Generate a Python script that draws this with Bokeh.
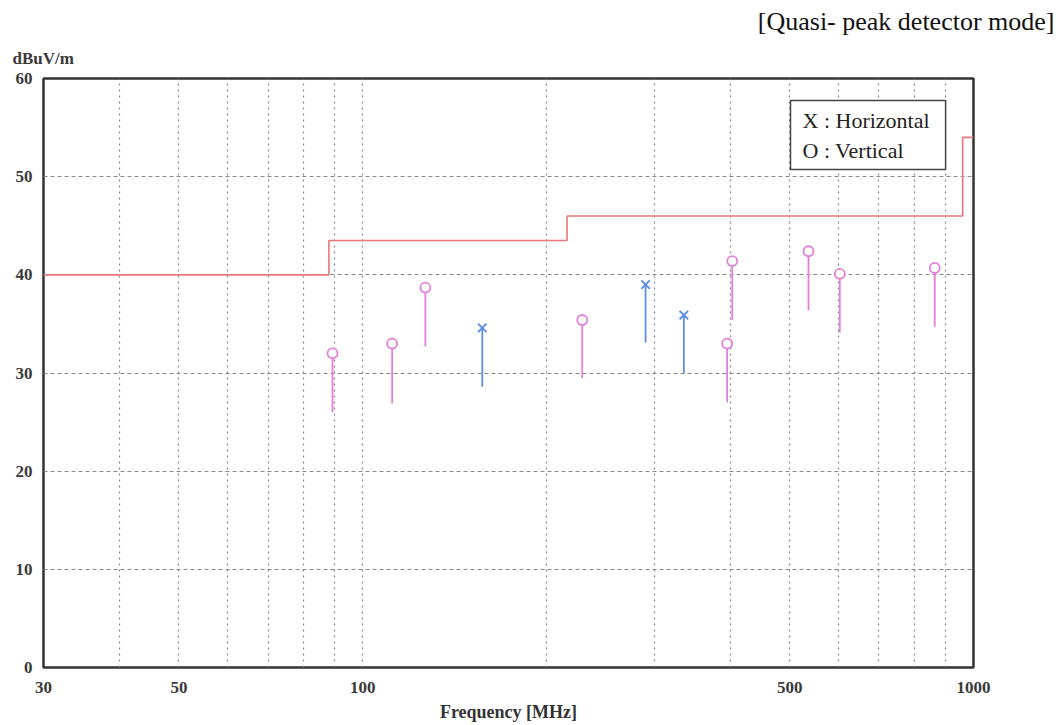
from bokeh.plotting import figure
from bokeh.models import FixedTicker, Label, CustomJSTickFormatter, Title
from bokeh.embed import file_html
from bokeh.resources import INLINE

# Limit line (step) in MHz / dBuV/m
limit_freq = [30, 88, 216, 960, 1000]
limit_level = [40, 43.5, 46, 54, 54]

# Vertical polarisation readings (O)
v_freq = [89.2, 111.7, 126.6, 228.7, 395.0, 402.6, 536.8, 604.0, 864.0]
v_level = [32.0, 33.0, 38.7, 35.4, 33.0, 41.4, 42.4, 40.1, 40.7]
v_low = [26.0, 26.9, 32.7, 29.5, 27.0, 35.4, 36.4, 34.1, 34.7]

# Horizontal polarisation readings (X)
h_freq = [156.9, 290.4, 335.5]
h_level = [34.6, 39.0, 35.9]
h_low = [28.6, 33.1, 30.0]

x_tick_labels = [30, 50, 100, 500, 1000]
x_grid = [40, 50, 60, 70, 80, 90, 100, 200, 300, 400, 500, 600, 700, 800, 900]
y_ticks = [0, 10, 20, 30, 40, 50, 60]

SERIF = "Liberation Serif"
PINK = "#e080d8"
BLUE = "#5b8fe6"
RED = "#e87878"

p = figure(width=1056, height=724, x_axis_type="log", x_range=(30, 1000), y_range=(0, 60),
           output_backend="svg", toolbar_location=None,
           min_border_left=43, min_border_right=83, min_border_top=78, min_border_bottom=57)
p.title = None
p.background_fill_color = "white"
p.border_fill_color = "white"
p.outline_line_color = "#333333"
p.outline_line_width = 2.5

p.xaxis.ticker = FixedTicker(ticks=x_tick_labels)
p.xaxis.formatter = CustomJSTickFormatter(code="return tick.toFixed(0);")
p.yaxis.ticker = FixedTicker(ticks=y_ticks)
for ax in (p.xaxis[0], p.yaxis[0]):
    ax.axis_line_color = None
    ax.major_tick_line_color = None
    ax.minor_tick_line_color = None
    ax.major_label_text_font = SERIF
    ax.major_label_text_font_style = "bold"
    ax.major_label_text_font_size = "17px"
    ax.major_label_text_color = "#3a3a3a"
p.xaxis.major_label_standoff = 8
p.yaxis.major_label_standoff = 5
p.xaxis.axis_label = "Frequency [MHz]"
p.xaxis.axis_label_text_font = SERIF
p.xaxis.axis_label_text_font_style = "bold"
p.xaxis.axis_label_text_font_size = "18px"
p.xaxis.axis_label_text_color = "#333333"
p.xaxis.axis_label_standoff = 6

p.xgrid.ticker = FixedTicker(ticks=x_grid)
p.ygrid.ticker = FixedTicker(ticks=[10, 20, 30, 40, 50])
p.xgrid.grid_line_color = "#888888"
p.xgrid.grid_line_dash = "2 4"
p.xgrid.grid_line_width = 1.2
p.ygrid.grid_line_color = "#888888"
p.ygrid.grid_line_dash = "4 3"
p.ygrid.grid_line_width = 1.2

# limit line
p.step(limit_freq, limit_level, mode="after", line_color=RED, line_width=1.6)

# vertical
p.segment(x0=v_freq, y0=v_low, x1=v_freq, y1=v_level, line_color=PINK, line_width=1.8)
p.scatter(v_freq, v_level, marker="circle", size=10, fill_color="white",
          line_color=PINK, line_width=1.8)

# horizontal
p.segment(x0=h_freq, y0=h_low, x1=h_freq, y1=h_level, line_color=BLUE, line_width=1.8)
p.scatter(h_freq, h_level, marker="x", size=12, line_color=BLUE, line_width=2.0)

# texts above the frame
p.add_layout(Title(text="dBuV/m", align="left", offset=-31, standoff=22,
                   text_font=SERIF, text_font_style="bold", text_font_size="17px",
                   text_color="#3a3a3a"), "above")
p.add_layout(Title(text="[Quasi- peak detector mode]", align="right", offset=-81, standoff=0,
                   text_font=SERIF, text_font_style="normal", text_font_size="26px",
                   text_color="#111111"), "above")

# legend box
p.add_layout(Label(x=747, y=567, x_units="screen", y_units="screen",
                   text="X : Horizontal\nO : Vertical", text_font=SERIF,
                   text_font_size="22px", text_align="left", text_baseline="top",
                   text_color="#222222", text_line_height=1.2,
                   padding=dict(left=12, right=16, top=7, bottom=7),
                   border_line_color="#444444", border_line_width=1.5,
                   background_fill_color="white"))

open("out.html", "w").write(file_html(p, INLINE))
